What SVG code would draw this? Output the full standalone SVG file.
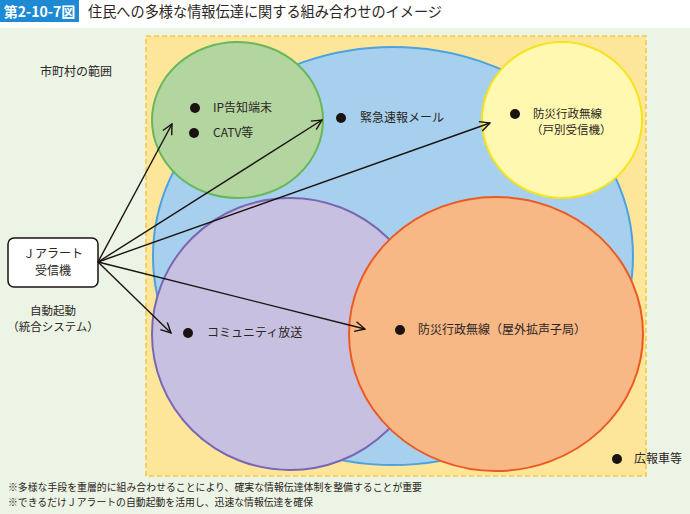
<svg xmlns="http://www.w3.org/2000/svg" width="690" height="514" viewBox="0 0 690 514">
<defs>
<style>
text{font-family:"Noto Sans CJK JP","Noto Sans",sans-serif;fill:#2b2523;}
.lbl{font-size:12px;}
.sm{font-size:11.5px;}
.note{font-size:10px;}
.dot{fill:#1a1311;}
.conn line{stroke:#1a1311;stroke-width:1.4;fill:none;marker-end:url(#ah);}
</style>
<marker id="ah" viewBox="0 0 12 12" refX="11" refY="6" markerWidth="12" markerHeight="12" markerUnits="userSpaceOnUse" orient="auto">
<path d="M1,1 L11,6 L1,11" fill="none" stroke="#1a1311" stroke-width="1.4"/>
</marker>
</defs>
<rect x="0" y="0" width="690" height="514" fill="#ffffff"/>
<rect x="0" y="28" width="690" height="486" fill="#ebf4e5"/>
<g id="title">
<rect x="0" y="0" width="79" height="22" fill="#1d8ad3"/>
<text x="39.5" y="16.5" text-anchor="middle" style="font-size:14px;font-weight:bold;fill:#ffffff">第2-10-7図</text>
<text x="88" y="17" style="font-size:14.5px" textLength="354" lengthAdjust="spacingAndGlyphs">住民への多様な情報伝達に関する組み合わせのイメージ</text>
</g>
<g id="area">
<rect x="146" y="36" width="500" height="440" fill="#fde69a" stroke="#f6c83e" stroke-width="1.5" stroke-dasharray="5,3"/>
<text x="40" y="76" class="lbl">市町村の範囲</text>
</g>
<g id="mail">
<ellipse cx="393" cy="256" rx="240" ry="209" fill="#a6d0ee" stroke="#4aa3e0" stroke-width="2"/>
<circle cx="341" cy="118" r="5" class="dot"/>
<text x="360" y="122" class="lbl">緊急速報メール</text>
</g>
<g id="ip">
<ellipse cx="237.5" cy="120" rx="85.5" ry="78" fill="#b3d59f" stroke="#68b85a" stroke-width="2"/>
<circle cx="195" cy="108" r="5" class="dot"/>
<text x="213" y="112" class="lbl">IP告知端末</text>
<circle cx="194" cy="133" r="5" class="dot"/>
<text x="213" y="137" class="lbl">CATV等</text>
</g>
<g id="kobetsu">
<ellipse cx="562" cy="120" rx="80" ry="78" fill="#fff8b0" stroke="#f6e31c" stroke-width="2"/>
<circle cx="515" cy="114" r="5" class="dot"/>
<text x="533" y="118" class="sm">防災行政無線</text>
<text x="531" y="134" class="sm">（戸別受信機）</text>
</g>
<g id="community">
<ellipse cx="290" cy="334" rx="138" ry="136" fill="#c8c0e0" stroke="#7a67b3" stroke-width="2"/>
<circle cx="188" cy="333" r="5" class="dot"/>
<text x="207" y="337" class="lbl">コミュニティ放送</text>
</g>
<g id="okugai">
<ellipse cx="496" cy="334" rx="147" ry="137" fill="#f7b886" stroke="#eb5a23" stroke-width="2"/>
<circle cx="400" cy="330" r="5" class="dot"/>
<text x="418" y="334" class="lbl">防災行政無線（屋外拡声子局）</text>
</g>
<g id="koho">
<circle cx="617" cy="459" r="5" class="dot"/>
<text x="634" y="463" class="lbl">広報車等</text>
</g>
<g id="jalert">
<rect x="8" y="238" width="90" height="49" rx="6" fill="#ffffff" stroke="#1a1311" stroke-width="1.5"/>
<text x="53" y="258" class="lbl" text-anchor="middle">Ｊアラート</text>
<text x="53" y="275" class="lbl" text-anchor="middle">受信機</text>
<text x="53" y="315" class="sm" text-anchor="middle">自動起動</text>
<text x="53" y="331" class="sm" text-anchor="middle">（統合システム）</text>
</g>
<g id="connectors" class="conn">
<line x1="98" y1="262" x2="172" y2="124"/>
<line x1="98" y1="262" x2="322" y2="120"/>
<line x1="98" y1="262" x2="490" y2="123"/>
<line x1="98" y1="262" x2="171" y2="333"/>
<line x1="98" y1="262" x2="365" y2="329"/>
</g>
<g id="notes">
<text x="8" y="491" class="note" textLength="414" lengthAdjust="spacingAndGlyphs">※多様な手段を重層的に組み合わせることにより、確実な情報伝達体制を整備することが重要</text>
<text x="8" y="506" class="note" textLength="305" lengthAdjust="spacingAndGlyphs">※できるだけＪアラートの自動起動を活用し、迅速な情報伝達を確保</text>
</g>
</svg>
